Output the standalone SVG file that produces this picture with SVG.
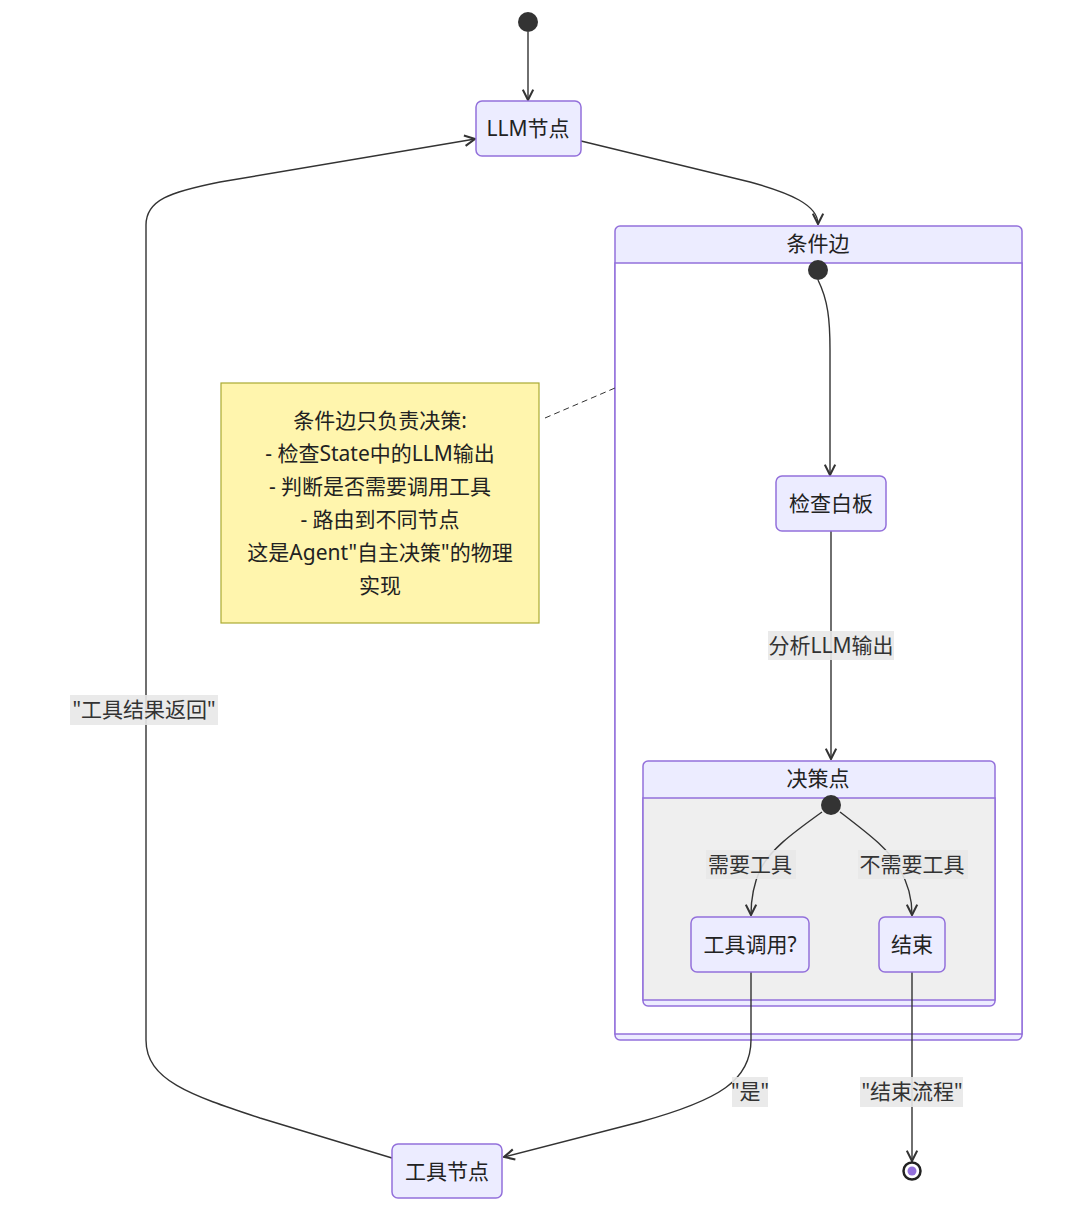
<svg xmlns="http://www.w3.org/2000/svg" width="1080" height="1217" viewBox="0 0 1080 1217">
<defs>
<marker id="arr" viewBox="0 0 10 10" refX="9" refY="5" markerWidth="13" markerHeight="13" markerUnits="userSpaceOnUse" orient="auto">
<path d="M1,1 L9,5 L1,9" fill="none" stroke="#333" stroke-width="1.6"/>
</marker>
</defs>
<style>
text{font-family:"Noto Sans","Noto Sans CJK SC",sans-serif;font-size:21px;fill:#222;text-anchor:middle;dominant-baseline:central}
.node{fill:#ECECFF;stroke:#9370DB;stroke-width:1.5}
.clo{fill:#ECECFF;stroke:#9370DB;stroke-width:1.5}
.cli{stroke:#9370DB;stroke-width:1.5}
.edge{fill:none;stroke:#333;stroke-width:1.4}
.lbl{fill:#E8E8E8;opacity:0.9}
.lt{fill:#333}
</style>
<rect width="1080" height="1217" fill="#fff"/>

<g id="cluster-conditional">
<rect class="clo" x="615" y="226" width="407" height="814" rx="5"/>
<rect class="cli" x="615" y="263" width="407" height="771" fill="#fff"/>
<text x="818" y="243">条件边</text>
</g>
<g id="cluster-decision">
<rect class="clo" x="643" y="761" width="352" height="245" rx="5"/>
<rect class="cli" x="643" y="798" width="352" height="202" fill="#EFEFEF"/>
<text x="818" y="778">决策点</text>
</g>

<g id="connectors">
<path class="edge" d="M528,32 L528,100" marker-end="url(#arr)"/>
<path class="edge" d="M581,141 L750,182 C790,193 818,205 818,224" marker-end="url(#arr)"/>
<path class="edge" d="M818,280 C828,300 830,320 830,350 L830,475" marker-end="url(#arr)"/>
<path class="edge" d="M831,531 L831,759" marker-end="url(#arr)"/>
<path class="edge" d="M822,812 C790,835 770,850 760,870 Q751,890 751,915" marker-end="url(#arr)"/>
<path class="edge" d="M840,812 C870,835 890,850 900,870 Q912,890 912,915" marker-end="url(#arr)"/>
<path class="edge" d="M751,972 L751,1040 C751,1080 720,1100 640,1122 L504,1157" marker-end="url(#arr)"/>
<path class="edge" d="M912,972 L912,1161" marker-end="url(#arr)"/>
<path class="edge" d="M392,1158 L260,1118 C190,1095 146,1080 146,1040 L146,225 C146,200 170,192 220,182 L475,139" marker-end="url(#arr)"/>
<path d="M545,418 L615,388" fill="none" stroke="#333" stroke-width="1" stroke-dasharray="6,4"/>

<rect class="lbl" x="768" y="631" width="126" height="29"/>
<text class="lt" x="831" y="645">分析LLM输出</text>
<rect class="lbl" x="706" y="850" width="90" height="29"/>
<text class="lt" x="750" y="864">需要工具</text>
<rect class="lbl" x="858" y="850" width="110" height="29"/>
<text class="lt" x="912" y="864">不需要工具</text>
<rect class="lbl" x="732" y="1077" width="36" height="30"/>
<text class="lt" x="750" y="1091">"是"</text>
<rect class="lbl" x="860" y="1077" width="103" height="30"/>
<text class="lt" x="912" y="1091">"结束流程"</text>
<rect class="lbl" x="70" y="695" width="148" height="30"/>
<text class="lt" x="144" y="709">"工具结果返回"</text>
</g>

<g id="start">
<circle cx="528" cy="22" r="10" fill="#333"/>
</g>
<g id="llm-node">
<rect class="node" x="476" y="101" width="105" height="55" rx="6"/>
<text x="528" y="128">LLM节点</text>
</g>
<g id="cond-start">
<circle cx="818" cy="270" r="10" fill="#333"/>
</g>
<g id="check-board">
<rect class="node" x="776" y="476" width="110" height="55" rx="6"/>
<text x="831" y="503">检查白板</text>
</g>
<g id="decision-start">
<circle cx="831" cy="805" r="10" fill="#333"/>
</g>
<g id="tool-call">
<rect class="node" x="691" y="917" width="118" height="55" rx="6"/>
<text x="750" y="944">工具调用?</text>
</g>
<g id="end-node">
<rect class="node" x="879" y="917" width="66" height="55" rx="6"/>
<text x="912" y="944">结束</text>
</g>
<g id="tool-node">
<rect class="node" x="392" y="1144" width="110" height="54" rx="6"/>
<text x="447" y="1171">工具节点</text>
</g>
<g id="final">
<circle cx="912" cy="1171" r="8.5" fill="#fff" stroke="#222" stroke-width="2.5"/>
<circle cx="912" cy="1171" r="4.5" fill="#9370DB"/>
</g>
<g id="note">
<rect x="221" y="383" width="318" height="240" fill="#FFF5AD" stroke="#AAAA33" stroke-width="1.2"/>
<text x="380" y="420">条件边只负责决策:</text>
<text x="380" y="453">- 检查State中的LLM输出</text>
<text x="380" y="486">- 判断是否需要调用工具</text>
<text x="380" y="519">- 路由到不同节点</text>
<text x="380" y="552">这是Agent"自主决策"的物理</text>
<text x="380" y="585">实现</text>
</g>
</svg>
